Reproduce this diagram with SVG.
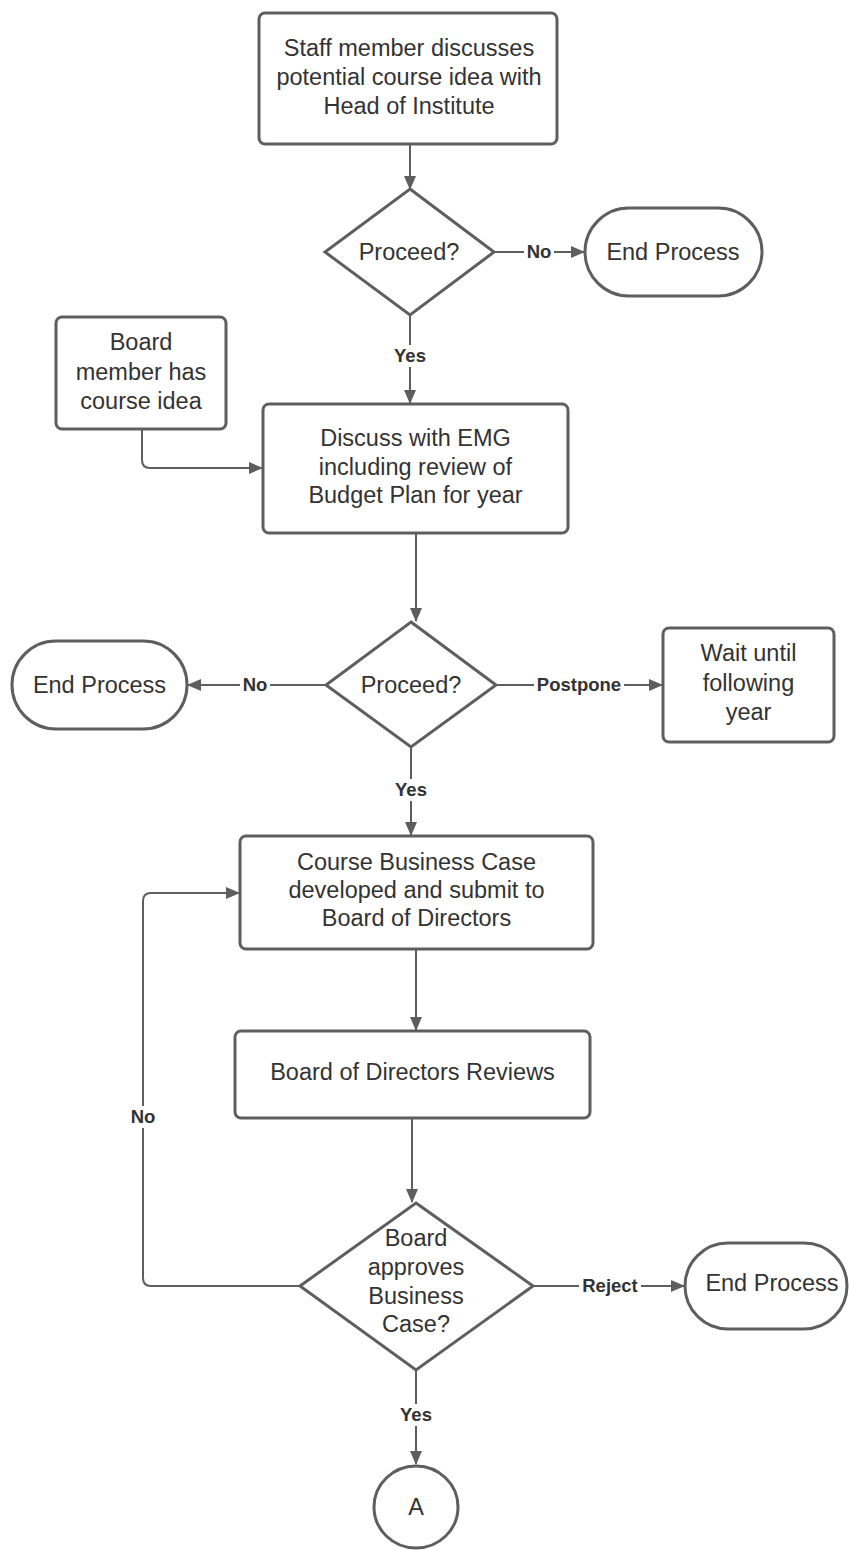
<svg xmlns="http://www.w3.org/2000/svg" width="849" height="1550" viewBox="0 0 849 1550">
<style>
.shape{fill:#fff;stroke:#5e5e5e;stroke-width:3}
.t{font-family:"Liberation Sans",Arial,sans-serif;font-size:23.5px;fill:#333;text-anchor:middle}
.c{fill:none;stroke:#5e5e5e;stroke-width:2}
.lbl{font-family:"Liberation Sans",Arial,sans-serif;font-size:18.5px;font-weight:bold;fill:#333;text-anchor:middle}
.bg{fill:#fff}
</style>
<defs>
<marker id="ah" markerUnits="userSpaceOnUse" markerWidth="14" markerHeight="14" viewBox="0 0 14 14" refX="13" refY="7" orient="auto">
<path d="M0,1 L14,7 L0,13 Z" fill="#5e5e5e"/>
</marker>
</defs>
<rect width="849" height="1550" fill="#fff"/>
<g id="connectors">
<path class="c" d="M410,145 V189" marker-end="url(#ah)"/>
<path class="c" d="M494,252 H584" marker-end="url(#ah)"/>
<path class="c" d="M410,316 V403" marker-end="url(#ah)"/>
<path class="c" d="M142,430 V460 Q142,468 150,468 H262" marker-end="url(#ah)"/>
<path class="c" d="M416,534 V621" marker-end="url(#ah)"/>
<path class="c" d="M326,685 H188" marker-end="url(#ah)"/>
<path class="c" d="M496,685 H662" marker-end="url(#ah)"/>
<path class="c" d="M411,748 V835" marker-end="url(#ah)"/>
<path class="c" d="M416,950 V1030" marker-end="url(#ah)"/>
<path class="c" d="M412,1119 V1202" marker-end="url(#ah)"/>
<path class="c" d="M534,1286 H684" marker-end="url(#ah)"/>
<path class="c" d="M299,1286 H151 Q143,1286 143,1278 V901 Q143,893 151,893 H239" marker-end="url(#ah)"/>
<path class="c" d="M416,1371 V1464" marker-end="url(#ah)"/>
<rect class="bg" x="524" y="241" width="30" height="22"/>
<text class="lbl" x="539" y="258">No</text>
<rect class="bg" x="392" y="345" width="36" height="22"/>
<text class="lbl" x="410" y="362">Yes</text>
<rect class="bg" x="240" y="674" width="30" height="22"/>
<text class="lbl" x="255" y="691">No</text>
<rect class="bg" x="534" y="674" width="90" height="22"/>
<text class="lbl" x="579" y="691">Postpone</text>
<rect class="bg" x="393" y="779" width="36" height="22"/>
<text class="lbl" x="411" y="796">Yes</text>
<rect class="bg" x="579" y="1275" width="62" height="22"/>
<text class="lbl" x="610" y="1292">Reject</text>
<rect class="bg" x="128" y="1106" width="30" height="22"/>
<text class="lbl" x="143" y="1123">No</text>
<rect class="bg" x="398" y="1404" width="36" height="22"/>
<text class="lbl" x="416" y="1421">Yes</text>
</g>
<g id="n1">
<rect class="shape" x="259" y="13" width="298" height="131" rx="6"/>
<text class="t" x="409" y="56">Staff member discusses</text>
<text class="t" x="409" y="85">potential course idea with</text>
<text class="t" x="409" y="114">Head of Institute</text>
</g>
<g id="d1">
<polygon class="shape" points="410,189 494,252 410,315 325,252"/>
<text class="t" x="409" y="260">Proceed?</text>
</g>
<g id="end1">
<rect class="shape" x="585" y="208" width="177" height="88" rx="44"/>
<text class="t" x="673" y="260">End Process</text>
</g>
<g id="n_board">
<rect class="shape" x="56" y="317" width="170" height="112" rx="6"/>
<text class="t" x="141" y="350">Board</text>
<text class="t" x="141" y="380">member has</text>
<text class="t" x="141" y="409">course idea</text>
</g>
<g id="n2">
<rect class="shape" x="263" y="404" width="305" height="129" rx="6"/>
<text class="t" x="415.5" y="446">Discuss with EMG</text>
<text class="t" x="415.5" y="475">including review of</text>
<text class="t" x="415.5" y="503">Budget Plan for year</text>
</g>
<g id="d2">
<polygon class="shape" points="411,622 496,685 411,747 326,685"/>
<text class="t" x="411" y="693">Proceed?</text>
</g>
<g id="end2">
<rect class="shape" x="12" y="641" width="175" height="88" rx="44"/>
<text class="t" x="99.5" y="693">End Process</text>
</g>
<g id="wait">
<rect class="shape" x="663" y="628" width="171" height="114" rx="6"/>
<text class="t" x="748.5" y="661">Wait until</text>
<text class="t" x="748.5" y="691">following</text>
<text class="t" x="748.5" y="720">year</text>
</g>
<g id="n3">
<rect class="shape" x="240" y="836" width="353" height="113" rx="6"/>
<text class="t" x="416.5" y="870">Course Business Case</text>
<text class="t" x="416.5" y="898">developed and submit to</text>
<text class="t" x="416.5" y="926">Board of Directors</text>
</g>
<g id="n4">
<rect class="shape" x="235" y="1031" width="355" height="87" rx="6"/>
<text class="t" x="412.5" y="1080">Board of Directors Reviews</text>
</g>
<g id="d3">
<polygon class="shape" points="416,1203 533,1286 416,1370 300,1286"/>
<text class="t" x="416" y="1246">Board</text>
<text class="t" x="416" y="1275">approves</text>
<text class="t" x="416" y="1304">Business</text>
<text class="t" x="416" y="1332">Case?</text>
</g>
<g id="end3">
<rect class="shape" x="685" y="1243" width="162" height="86" rx="43"/>
<text class="t" x="772" y="1291">End Process</text>
</g>
<g id="connA">
<ellipse class="shape" cx="416" cy="1507" rx="42" ry="41"/>
<text class="t" x="416" y="1515">A</text>
</g>
</svg>
